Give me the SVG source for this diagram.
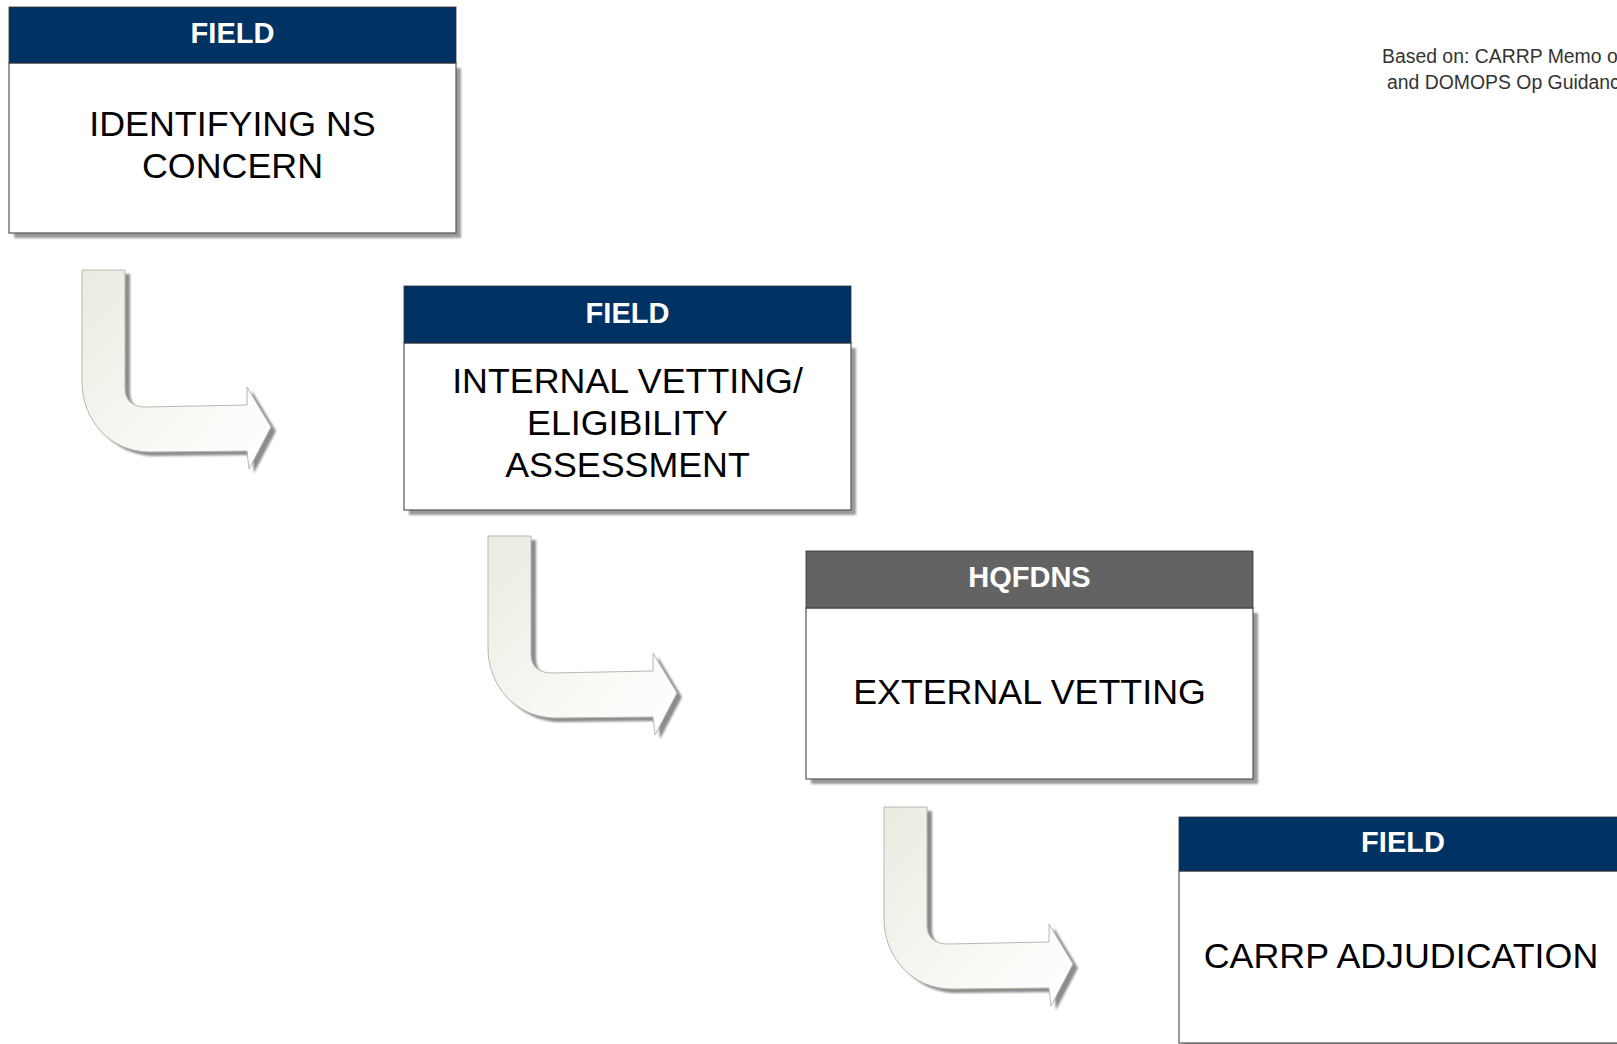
<svg xmlns="http://www.w3.org/2000/svg" width="1617" height="1044" viewBox="0 0 1617 1044">
<style>
.bg{fill:#ffffff}
.shadow{fill:#9a9a9a}
.body{fill:#ffffff;stroke:#555555;stroke-width:1.2}
.hdr-blue{fill:#003263;stroke:#333;stroke-width:0.8}
.hdr-gray{fill:#636363;stroke:#333;stroke-width:0.8}
.hdr-text{font-family:"Liberation Sans",Arial,sans-serif;font-weight:bold;font-size:29px;fill:#ffffff;text-anchor:middle}
.main-text{font-family:"Liberation Sans",Arial,sans-serif;font-size:35.8px;fill:#000000;text-anchor:middle}
.note{font-family:"Liberation Sans",Arial,sans-serif;font-size:19.4px;fill:#333333}
.arrow{fill:url(#arrowGrad);stroke:#b8b8b0;stroke-width:1}
.arrow-shadow{fill:#8c8c8c;filter:url(#soft)}
</style>
<defs>
<linearGradient id="arrowGrad" x1="0" y1="0" x2="1" y2="1">
<stop offset="0" stop-color="#ebebe1"/>
<stop offset="0.6" stop-color="#f8f8f4"/>
<stop offset="1" stop-color="#ffffff"/>
</linearGradient>
<filter id="soft" x="-10%" y="-10%" width="130%" height="130%">
<feGaussianBlur stdDeviation="1.2"/>
</filter>
<filter id="boxsoft" x="-5%" y="-5%" width="110%" height="110%">
<feGaussianBlur stdDeviation="0.8"/>
</filter>
<path id="bentArrow" d="M0,0 L43,0 L43,118 C43,130 50,137 64,137 L165,135 L165,117 L189,157 L167,199 L165,181 L68,182 C28,182 0,150 0,112 Z"/>
</defs>
<rect class="bg" x="0" y="0" width="1617" height="1044"/>

<text class="note" x="1382" y="63">Based on: CARRP Memo o</text>
<text class="note" x="1387" y="89">and DOMOPS Op Guidanc</text>

<g id="connectors">
<g id="arrow1" transform="translate(82,270)">
<use href="#bentArrow" class="arrow-shadow" transform="translate(5,4)"/>
<use href="#bentArrow" class="arrow"/>
</g>
<g id="arrow2" transform="translate(488,536)">
<use href="#bentArrow" class="arrow-shadow" transform="translate(5,4)"/>
<use href="#bentArrow" class="arrow"/>
</g>
<g id="arrow3" transform="translate(884,807)">
<use href="#bentArrow" class="arrow-shadow" transform="translate(5,4)"/>
<use href="#bentArrow" class="arrow"/>
</g>
</g>

<g id="node1">
<rect class="shadow" x="14" y="68" width="447" height="170" filter="url(#boxsoft)"/>
<rect class="body" x="9" y="63" width="447" height="170"/>
<rect class="hdr-blue" x="9" y="7" width="447" height="56"/>
<text class="hdr-text" x="232.5" y="43">FIELD</text>
<text class="main-text" x="232.5" y="136">IDENTIFYING NS</text>
<text class="main-text" x="232.5" y="178">CONCERN</text>
</g>

<g id="node2">
<rect class="shadow" x="409" y="348" width="447" height="167" filter="url(#boxsoft)"/>
<rect class="body" x="404" y="343" width="447" height="167"/>
<rect class="hdr-blue" x="404" y="286" width="447" height="57"/>
<text class="hdr-text" x="627.5" y="323">FIELD</text>
<text class="main-text" x="627.5" y="393">INTERNAL VETTING/</text>
<text class="main-text" x="627.5" y="435">ELIGIBILITY</text>
<text class="main-text" x="627.5" y="477">ASSESSMENT</text>
</g>

<g id="node3">
<rect class="shadow" x="811" y="613" width="447" height="171" filter="url(#boxsoft)"/>
<rect class="body" x="806" y="608" width="447" height="171"/>
<rect class="hdr-gray" x="806" y="551" width="447" height="57"/>
<text class="hdr-text" x="1029.5" y="587">HQFDNS</text>
<text class="main-text" x="1029.5" y="704">EXTERNAL VETTING</text>
</g>

<g id="node4">
<rect class="shadow" x="1184" y="876" width="448" height="172" filter="url(#boxsoft)"/>
<rect class="body" x="1179" y="871" width="448" height="172"/>
<rect class="hdr-blue" x="1179" y="817" width="448" height="54"/>
<text class="hdr-text" x="1403" y="852">FIELD</text>
<text class="main-text" x="1401" y="968">CARRP ADJUDICATION</text>
</g>
</svg>
